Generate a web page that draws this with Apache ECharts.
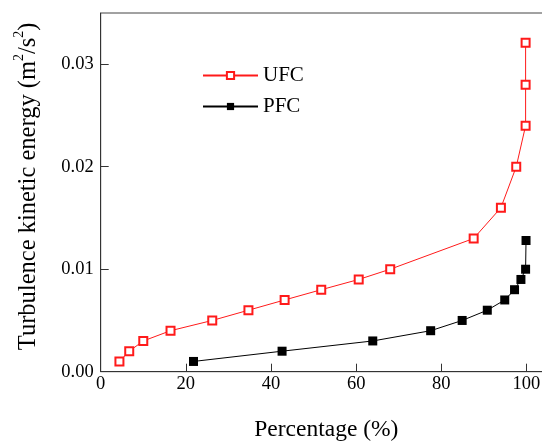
<!DOCTYPE html>
<html>
<head>
<meta charset="utf-8">
<script src="https://cdn.jsdelivr.net/npm/echarts@6/dist/echarts.min.js"></script>
<style>
  html, body { margin: 0; padding: 0; background: #fff; }
  #main { width: 542px; height: 441px; }
</style>
</head>
<body>
<div id="main"></div>
<script>
// percentage (x) and turbulence kinetic energy (y)
var ufcX = [4.4, 6.7, 10.0, 16.4, 26.2, 34.7, 43.2, 51.8, 60.6, 68.0, 87.6, 94.0, 97.6, 99.8, 99.8, 99.8];
var ufcY = [0.001, 0.002, 0.003, 0.004, 0.005, 0.006, 0.007, 0.008, 0.009, 0.010, 0.013, 0.016, 0.020, 0.024, 0.028, 0.0321];
var pfcX = [21.8, 42.6, 63.9, 77.5, 84.9, 90.8, 94.9, 97.2, 98.7, 99.8, 99.9];
var pfcY = [0.001, 0.002, 0.003, 0.004, 0.005, 0.006, 0.007, 0.008, 0.009, 0.010, 0.0128];
var seriesNames = ['UFC', 'PFC'];

function pairs(xs, ys) {
  var out = [];
  for (var i = 0; i < xs.length; i++) {
    out.push([xs[i], ys[i]]);
  }
  return out;
}

var font = 'Liberation Serif';
var chart = echarts.init(document.getElementById('main'));

var option = {
  animation: false,
  textStyle: { fontFamily: font, color: '#000' },
  // plot box runs past the right edge of the picture
  grid: {
    left: 100.7, top: 13, width: 451.3, bottom: 69.3,
    outerBoundsMode: 'none',
    containLabel: false,
    show: true, borderColor: '#444', borderWidth: 1
  },
  legend: {
    orient: 'vertical',
    left: 197, top: 60,
    itemWidth: 55, itemHeight: 9, itemGap: 10,
    textStyle: { fontFamily: font, fontSize: 21, color: '#000' },
    data: seriesNames
  },
  xAxis: {
    type: 'value',
    min: 0, max: 106, interval: 20,
    name: 'Percentage (%)',
    nameLocation: 'middle', nameGap: 46,
    nameTextStyle: { fontFamily: font, fontSize: 23.5, color: '#000' },
    axisLine: { lineStyle: { color: '#333', width: 1 } },
    axisTick: { inside: true, length: 8, lineStyle: { color: '#333' } },
    axisLabel: {
      fontFamily: font, fontSize: 18.5, color: '#000', margin: 3,
      showMaxLabel: false
    },
    splitLine: { show: false }
  },
  yAxis: {
    type: 'value',
    min: 0, max: 0.035, interval: 0.01,
    name: '{m|Turbulence kinetic energy (m}{s|2}{m|/s}{s|2}{m|)}',
    nameLocation: 'middle', nameGap: 60,
    nameTextStyle: {
      fontFamily: font, fontSize: 24.5, color: '#000',
      padding: [0, 0, 0, 12],
      rich: {
        m: { fontFamily: font, fontSize: 24.5, color: '#000', lineHeight: 28, verticalAlign: 'bottom' },
        s: { fontFamily: font, fontSize: 14, color: '#000', lineHeight: 28, verticalAlign: 'top' }
      }
    },
    axisLine: { show: true, lineStyle: { color: '#333', width: 1 } },
    axisTick: { show: true, inside: true, length: 8, lineStyle: { color: '#333' } },
    axisLabel: {
      fontFamily: font, fontSize: 18.5, color: '#000', margin: 7,
      showMaxLabel: false,
      formatter: function (v) { return v.toFixed(2); }
    },
    splitLine: { show: false }
  },
  series: [
    {
      name: seriesNames[0],
      type: 'line',
      data: pairs(ufcX, ufcY),
      symbol: 'emptyRect',
      symbolSize: 8,
      lineStyle: { color: '#ff1a1a', width: 1 },
      itemStyle: { color: '#ff1a1a', borderColor: '#ff1a1a', borderWidth: 1.3 },
      z: 2
    },
    {
      name: seriesNames[1],
      type: 'line',
      data: pairs(pfcX, pfcY),
      symbol: 'rect',
      symbolSize: 9,
      lineStyle: { color: '#000', width: 1 },
      itemStyle: { color: '#000' },
      z: 3
    }
  ]
};

chart.setOption(option);
</script>
</body>
</html>
